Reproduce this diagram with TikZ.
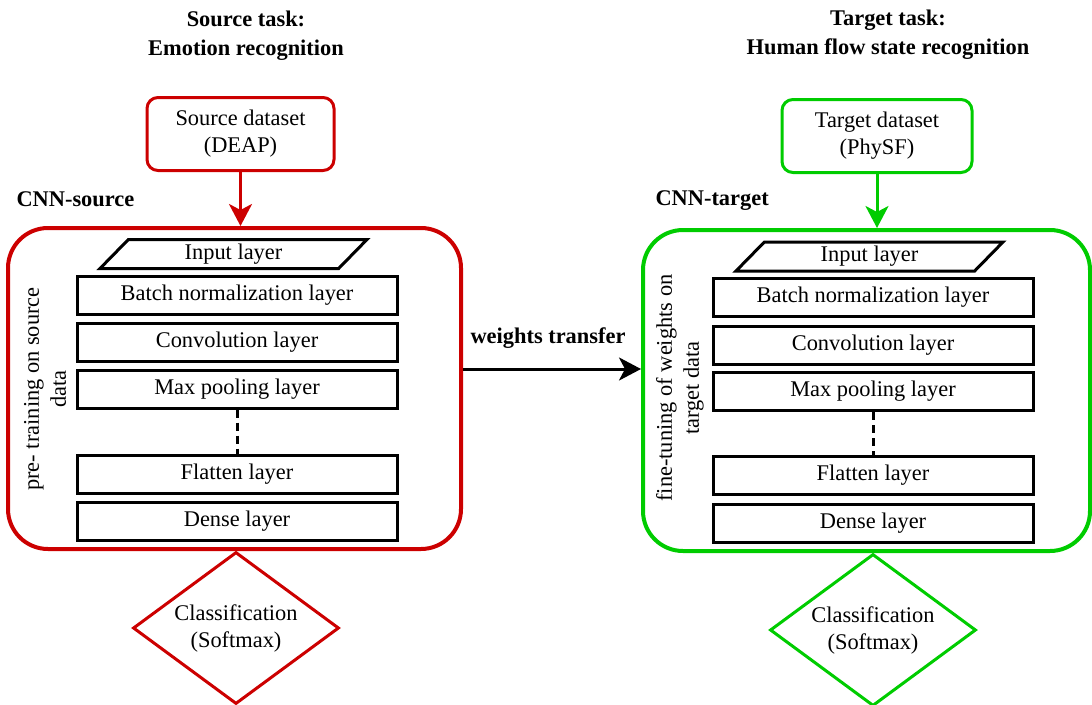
\documentclass[tikz,border=0pt]{standalone}
\usepackage{fontspec}
\setmainfont{Liberation Serif}
\usetikzlibrary{arrows.meta,shapes.geometric,calc}
\definecolor{srcred}{RGB}{204,0,0}
\definecolor{tgtgreen}{RGB}{0,204,0}
\begin{document}
\begin{tikzpicture}[x=1pt,y=-1pt,
  txt/.style={font=\fontsize{22.4}{27}\selectfont},
  boldtxt/.style={font=\fontsize{22.4}{29}\selectfont\bfseries},
  title/.style={boldtxt,align=center},
  dataset/.style={txt,draw,line width=3pt,rounded corners=11pt,align=center,minimum width=#1,minimum height=73pt,inner sep=1pt},
  container/.style={draw,line width=4pt,rounded corners=40pt,minimum height=321pt,inner sep=0pt},
  layerbox/.style={txt,draw=black,line width=3pt,minimum width=320pt,minimum height=38pt,inner sep=0pt},
  inputbox/.style={txt,draw=black,line width=3pt,trapezium,trapezium stretches body,
    trapezium left angle=37,trapezium right angle=143,minimum width=267pt,minimum height=29pt,inner sep=0.5pt},
  classbox/.style={txt,draw,line width=3pt,diamond,shape aspect=1.355,minimum width=206pt,minimum height=152pt,align=center,inner sep=0pt},
  flow/.style={line width=3pt,-{Stealth[length=22pt,width=23pt,inset=6pt]}},
  sidetext/.style={txt,rotate=90,align=center},
  skip/.style={line width=3pt,dash pattern=on 8pt off 5pt}
]
\useasboundingbox (0,0) rectangle (1092,704);

% ---------- source side ----------
\node[title] (srcTitle) at (246,36) {Source task:\\Emotion recognition};
\node[dataset=187pt,draw=srcred] (srcData) at (240.5,134) {Source dataset\\(DEAP)};
\node[boldtxt,anchor=west] (srcLabel) at (13,199) {CNN-source};
\node[container,draw=srcred,minimum width=453pt] (cnnS) at (234.5,388.5) {};
\node[inputbox] (inS) at (233.5,254) {Input layer};
\node[layerbox] (bnS) at (237,295) {Batch normalization layer};
\node[layerbox] (convS) at (237,342.5) {Convolution layer};
\node[layerbox] (poolS) at (237,389) {Max pooling layer};
\node[layerbox] (flatS) at (237,474) {Flatten layer};
\node[layerbox] (denseS) at (237,521) {Dense layer};
\node[sidetext] (preS) at (45,389) {pre- training on source\\data};
\node[classbox,draw=srcred] (clsS) at (236,628) {Classification\\(Softmax)};

\draw[flow,draw=srcred,fill=srcred] (srcData.south) -- (srcData.south |- cnnS.north);
\draw[skip] (poolS.south) -- (flatS.north);

% ---------- target side ----------
\node[title] (tgtTitle) at (888,34.5) {Target task:\\Human flow state recognition};
\node[dataset=190pt,draw=tgtgreen] (tgtData) at (877,136) {Target dataset\\(PhySF)};
\node[boldtxt,anchor=west] (tgtLabel) at (652,201) {CNN-target};
\node[container,draw=tgtgreen,minimum width=447pt] (cnnT) at (866.5,390.5) {};
\node[inputbox] (inT) at (869.5,256.5) {Input layer};
\node[layerbox] (bnT) at (873,297.5) {Batch normalization layer};
\node[layerbox] (convT) at (873,345) {Convolution layer};
\node[layerbox] (poolT) at (873,391.5) {Max pooling layer};
\node[layerbox] (flatT) at (873,475.5) {Flatten layer};
\node[layerbox] (denseT) at (873,523) {Dense layer};
\node[sidetext] (fineT) at (680,388) {fine-tuning of weights on\\target data};
\node[classbox,draw=tgtgreen] (clsT) at (873,630) {Classification\\(Softmax)};

\draw[flow,draw=tgtgreen,fill=tgtgreen] (tgtData.south) -- (tgtData.south |- cnnT.north);
\draw[skip] (poolT.south) -- (flatT.north);

% ---------- transfer between the networks ----------
\coordinate (wy) at (550,369);
\node[boldtxt] (wtLabel) at (548,338) {weights transfer};
\draw[flow,draw=black,fill=black] (cnnS.east |- wy) -- (cnnT.west |- wy);
\end{tikzpicture}
\end{document}
